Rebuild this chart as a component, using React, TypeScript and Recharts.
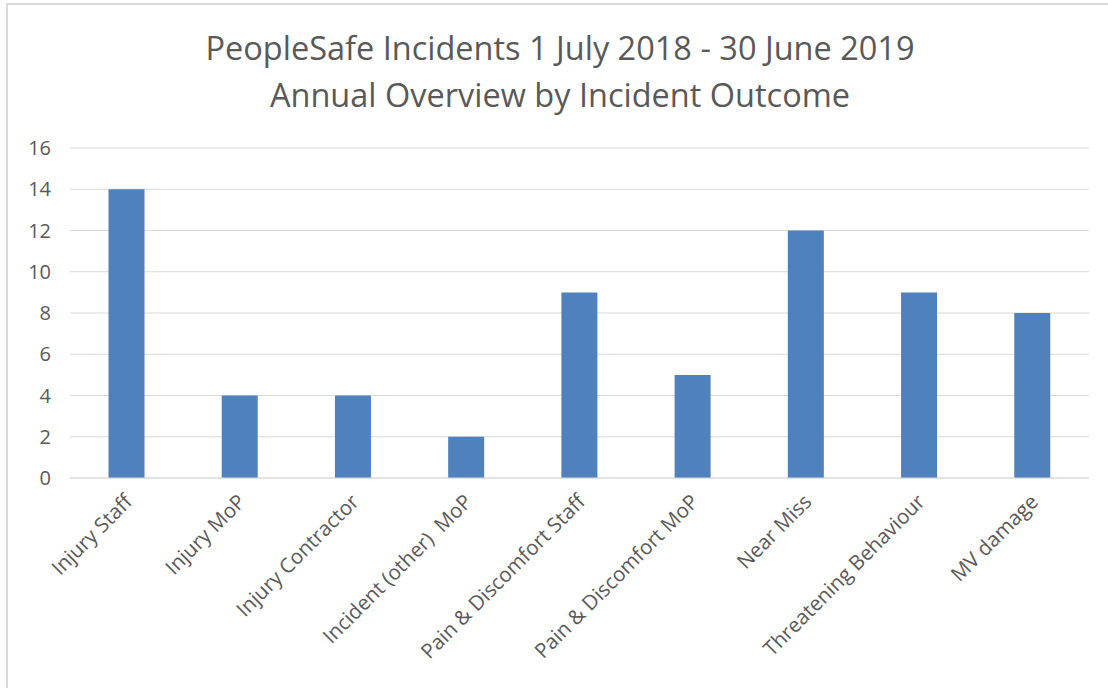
import React from "react"
import { BarChart, Bar, XAxis, YAxis, CartesianGrid } from "recharts"

const categories = [
  "Injury Staff",
  "Injury MoP",
  "Injury Contractor",
  "Incident (other)  MoP",
  "Pain & Discomfort Staff",
  "Pain & Discomfort MoP",
  "Near Miss",
  "Threatening Behaviour",
  "MV damage",
]
const counts = [14, 4, 4, 2, 9, 5, 12, 9, 8]
const yTicks = [0, 2, 4, 6, 8, 10, 12, 14, 16]

const titleLines = [
  "PeopleSafe Incidents 1 July 2018 - 30 June 2019",
  "Annual Overview by Incident Outcome",
]

const data = categories.map((name, i) => ({ name, value: counts[i] }))

const FONT = "'Open Sans', 'Noto Sans', sans-serif"
const TEXT = "#595959"

function CategoryTick(props: any) {
  const { x, y, payload } = props
  return (
    <g transform={`translate(${x + 7},${y + 17})`}>
      <text
        transform="rotate(-45)"
        textAnchor="end"
        fill={TEXT}
        fontSize={20.5}
        fontFamily={FONT}
        style={{ whiteSpace: "pre" }}
      >
        {payload.value}
      </text>
    </g>
  )
}

export default function App() {
  return (
    <div
      style={{
        position: "absolute",
        left: 0,
        top: 0,
        width: 1108,
        height: 688,
        background: "#fff",
        overflow: "hidden",
      }}
    >
      {/* chart frame, only top and left edges visible */}
      <div
        style={{
          position: "absolute",
          left: 6,
          top: 3,
          width: 1200,
          height: 800,
          borderTop: "2px solid #d9d9d9",
          borderLeft: "2px solid #d9d9d9",
        }}
      />
      {titleLines.map((t, i) => (
        <div
          key={t}
          style={{
            position: "absolute",
            left: 0,
            width: 1120,
            top: 27 + i * 47,
            textAlign: "center",
            fontFamily: FONT,
            fontSize: 32.5,
            color: TEXT,
            lineHeight: "42px",
          }}
        >
          {t}
        </div>
      ))}
      <div style={{ position: "absolute", left: 0, top: 0 }}>
        <BarChart
          width={1108}
          height={688}
          data={data}
          margin={{ top: 148, right: 19, left: 0, bottom: 0 }}
          barCategoryGap="34%"
        >
          <CartesianGrid vertical={false} stroke="#d9d9d9" />
          <XAxis
            dataKey="name"
            interval={0}
            height={210}
            tickLine={false}
            axisLine={{ stroke: "#d9d9d9" }}
            tick={<CategoryTick />}
          />
          <YAxis
            domain={[0, 16]}
            ticks={yTicks}
            width={70}
            tickLine={false}
            axisLine={false}
            tickSize={0}
            tickMargin={19}
            tick={{ fontSize: 20, fill: TEXT, fontFamily: FONT }}
          />
          <Bar
            dataKey="value"
            fill="#4f81bd"
            isAnimationActive={false}
          />
        </BarChart>
      </div>
    </div>
  )
}
